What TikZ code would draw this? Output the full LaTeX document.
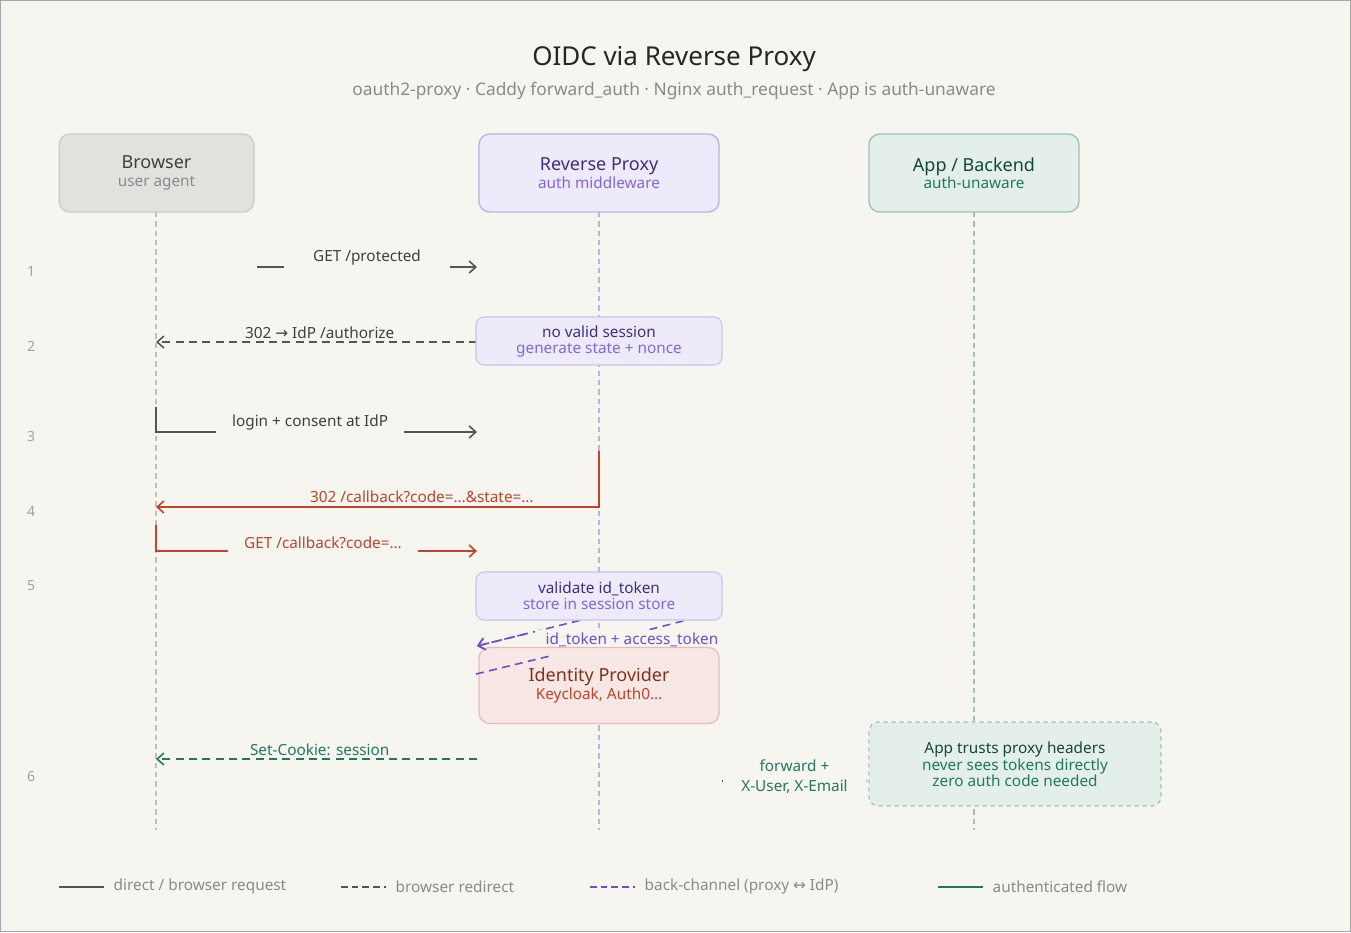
\documentclass[tikz,border=0pt]{standalone}
\usepackage{fontspec}
\setmainfont{Noto Sans}
\newfontfamily\symfont{DejaVu Sans}
\usetikzlibrary{positioning,arrows.meta}
\definecolor{bg}{HTML}{F7F5F0}
\definecolor{ink}{HTML}{555555}
\definecolor{redflow}{HTML}{C0432A}
\definecolor{backch}{HTML}{6A4FD0}
\definecolor{authgreen}{HTML}{1F7A5A}
\definecolor{muted}{HTML}{8A8A8A}
\tikzset{
  actor/.style={draw, rounded corners=8pt, line width=1pt, minimum width=#1, minimum height=58.5pt, align=center},
  note/.style={draw, rounded corners=6pt, line width=0.8pt, minimum width=184.5pt, minimum height=36pt, align=center, inner sep=1pt},
  life/.style={dashed, line width=0.8pt, dash pattern=on 4pt off 3pt},
  msg/.style={line width=1.2pt, -{Straight Barb[length=5pt,width=9pt]}},
  redir/.style={msg, dash pattern=on 6pt off 4pt},
  lbl/.style={fill=bg, font=\fontsize{11.5}{13}\selectfont, inner xsep=12pt, inner ysep=2pt},
  stepnum/.style={text=muted!80, font=\fontsize{10.5}{12}\selectfont},
  legsolid/.style={solid},
  legdash/.style={dash pattern=on 5pt off 3pt},
  legtext/.style={text=muted, font=\fontsize{11.5}{13}\selectfont, anchor=west}
}
\begin{document}
\begin{tikzpicture}[x=0.75pt, y=-0.75pt]
  \fill[bg] (0,0) rectangle (1351,932);
  \draw[gray!70, line width=0.8pt] (0.5,0.5) rectangle (1350.5,931.5);
  \useasboundingbox (0,0) rectangle (1351,932);

  % Title
  \node[font=\fontsize{19.5}{22}\selectfont\bfseries, text=black!85] (title) at (674,59) {OIDC via Reverse Proxy};
  \node[font=\fontsize{13}{15}\selectfont, text=muted] (subtitle) at (674,91) {oauth2-proxy · Caddy forward\_auth · Nginx auth\_request · App is auth-unaware};

  % Lifelines
  \coordinate (bT) at (156,212); \coordinate (bB) at (156,830);
  \coordinate (pT) at (599,212); \coordinate (pB) at (599,830);
  \coordinate (aT) at (974,212); \coordinate (aB) at (974,830);
  \draw[life, black!25] (bT) -- (bB);
  \draw[life, backch!45] (pT) -- (pB);
  \draw[life, authgreen!45] (aT) -- (aB);

  % Actors
  \node[actor=146pt, fill=black!8!bg, draw=black!20] (browser) at (156.5,173)
    {\fontsize{13.5}{16}\selectfont\bfseries\color{black!75}Browser\\[1pt]\fontsize{11.5}{14}\selectfont\color{muted}user agent};
  \node[actor=180pt, fill=backch!12!white, draw=backch!45] (proxy) at (599,173)
    {\fontsize{13.5}{16}\selectfont\bfseries\color{backch!60!black}Reverse Proxy\\[1pt]\fontsize{11.5}{14}\selectfont\color{backch!85}auth middleware};
  \node[actor=157.5pt, fill=authgreen!12!white, draw=authgreen!45] (app) at (974,173)
    {\fontsize{13.5}{16}\selectfont\bfseries\color{authgreen!60!black}App / Backend\\[1pt]\fontsize{11.5}{14}\selectfont\color{authgreen}auth-unaware};

  % Step numbers
  \foreach \n/\y in {1/271,2/346,3/436,4/511,5/586,6/776}
    \node[stepnum] (s\n) at (31,\y) {\n};

  % Back-channel lines (behind boxes)
  \coordinate (bc1) at (722,585); \coordinate (bc1e) at (477,646);
  \coordinate (bc2) at (722,611); \coordinate (bc2e) at (476,674);
  \draw[redir, backch] (bc1) -- (bc1e);
  \draw[line width=1.2pt, dash pattern=on 6pt off 4pt, backch] (bc2) -- (bc2e);
  \node[lbl, text=backch, inner xsep=8pt] (bclbl) at (632,640) {id\_token + access\_token};

  % Messages
  \coordinate (m1a) at (257,267); \coordinate (m1b) at (477,267);
  \draw[msg, ink] (m1a) -- node[lbl, pos=0.5, inner xsep=22pt, yshift=7pt, text=black!75] (l1) {GET /protected} (m1b);

  \coordinate (m2a) at (477,342); \coordinate (m2b) at (156,342);
  \draw[redir, ink] (m2a) -- node[lbl, pos=0.49, yshift=7pt, text=black!75] (l2) {302 {\symfont→} IdP /authorize} (m2b);

  \coordinate (m3a) at (156,407); \coordinate (m3b) at (477,432);
  \draw[msg, ink] (m3a) |- node[lbl, pos=0.74, yshift=7pt, text=black!75] (l3) {login + consent at IdP} (m3b);

  \coordinate (m4a) at (599,451); \coordinate (m4b) at (156,507);
  \draw[msg, redflow] (m4a) |- node[lbl, pos=0.7, yshift=8pt, text=redflow] (l4) {302 /callback?code=…\&state=…} (m4b);

  \coordinate (m5a) at (156,525); \coordinate (m5b) at (477,551);
  \draw[msg, redflow] (m5a) |- node[lbl, pos=0.76, yshift=6pt, text=redflow] (l5) {GET /callback?code=…} (m5b);

  \coordinate (m6a) at (477,759); \coordinate (m6b) at (156,759);
  \draw[redir, authgreen] (m6a) -- node[lbl, pos=0.49, yshift=7pt, text=authgreen] (l6) {Set-Cookie: session} (m6b);

  % Notes on proxy
  \node[note, fill=backch!12!white, draw=backch!35] (nosess) at (599,341)
    {\fontsize{11.5}{14}\selectfont\bfseries\color{backch!60!black}no valid session\\\fontsize{11.5}{14}\selectfont\color{backch!85}generate state + nonce};
  \node[note, fill=backch!12!white, draw=backch!35] (valid) at (599,596)
    {\fontsize{11.5}{14}\selectfont\bfseries\color{backch!60!black}validate id\_token\\\fontsize{11.5}{14}\selectfont\color{backch!85}store in session store};

  % Identity provider
  \node[actor=180pt, fill=redflow!12!white, draw=redflow!35, minimum height=57pt] (idp) at (599,685.5)
    {\fontsize{13.5}{16}\selectfont\bfseries\color{redflow!70!black}Identity Provider\\[1pt]\fontsize{11.5}{14}\selectfont\color{redflow}Keycloak, Auth0…};
  \coordinate (bc2m) at (550,656); \coordinate (bc1m) at (525,634);
  \draw[line width=1.2pt, dash pattern=on 6pt off 4pt, backch] (bc2e) -- (bc2m);
  \draw[redir, backch] (bc1m) -- (bc1e);

  % Forward to app
  \coordinate (fa) at (722,781); \coordinate (fb) at (867,781);
  \draw[msg, authgreen] (fa) -- node[lbl, align=center, inner xsep=14pt, yshift=3pt, text=authgreen, font=\fontsize{11.5}{15}\selectfont] (lf) {forward +\\X-User, X-Email} (fb);
  \node[draw=authgreen!45, dashed, fill=authgreen!12!white, rounded corners=7pt, line width=0.9pt, minimum width=219pt, minimum height=63pt, align=center] (trust) at (1015,764)
    {\fontsize{11.5}{14}\selectfont\bfseries\color{authgreen!60!black}App trusts proxy headers\\[1pt]\fontsize{11.5}{14}\selectfont\color{authgreen}never sees tokens directly\\\fontsize{11.5}{14}\selectfont\color{authgreen}zero auth code needed};

  % Legend
  \foreach \x/\sty/\col/\txt in {59/legsolid/ink/{direct / browser request},341/legdash/ink/{browser redirect},590/legdash/backch/{back-channel (proxy {\symfont↔} IdP)},938/legsolid/authgreen/{authenticated flow}} {
    \coordinate (lg\x) at (\x,887);
    \draw[line width=1.5pt, \col, \sty] (lg\x) -- ++(45,0);
    \node[legtext] (leg\x) at (\x+50,887) {\txt};
  }
\end{tikzpicture}
\end{document}
